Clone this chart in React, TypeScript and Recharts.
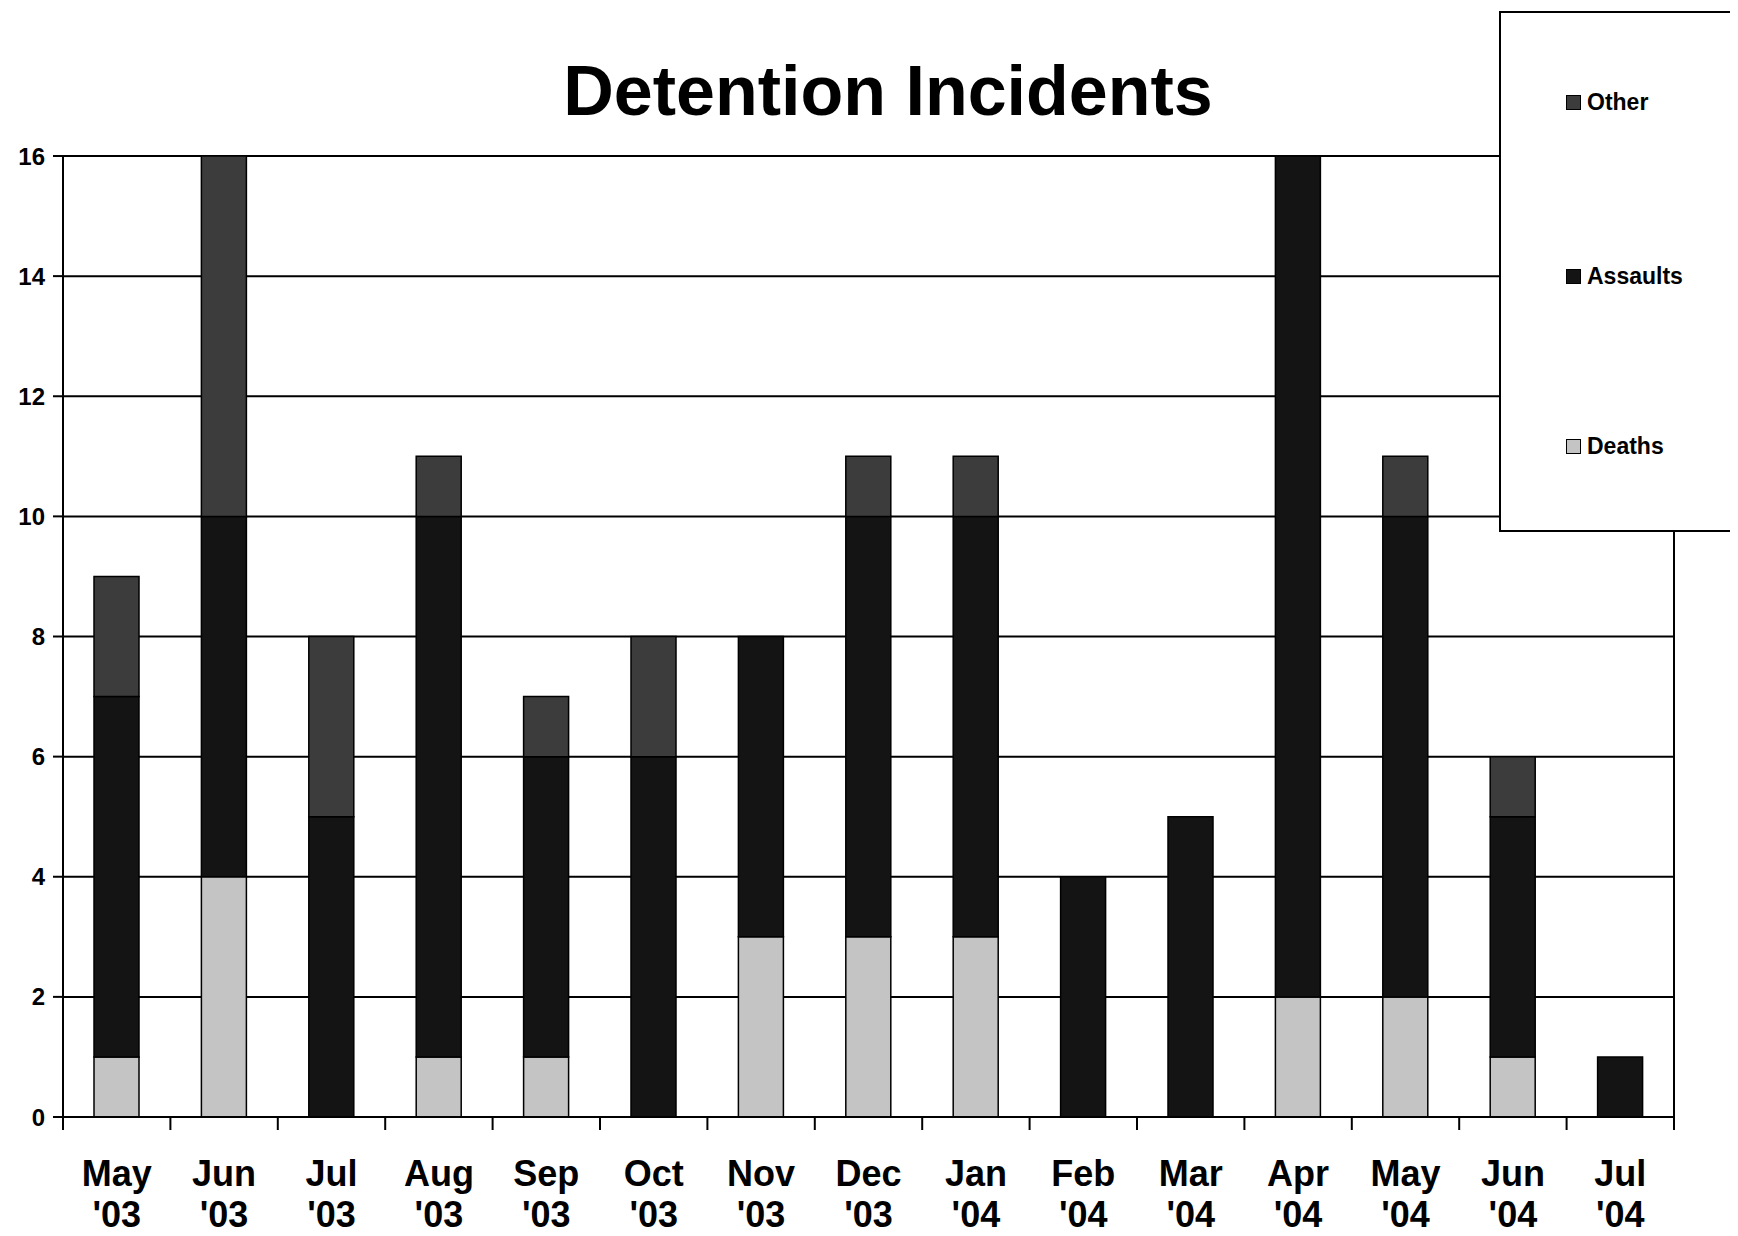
import React from "react";
import { BarChart, Bar, XAxis, YAxis, CartesianGrid } from "recharts";

const months = ["May", "Jun", "Jul", "Aug", "Sep", "Oct", "Nov", "Dec", "Jan", "Feb", "Mar", "Apr", "May", "Jun", "Jul"];
const years = ["'03", "'03", "'03", "'03", "'03", "'03", "'03", "'03", "'04", "'04", "'04", "'04", "'04", "'04", "'04"];
const deaths = [1, 4, 0, 1, 1, 0, 3, 3, 3, 0, 0, 2, 2, 1, 0];
const assaults = [6, 6, 5, 9, 5, 6, 5, 7, 7, 4, 5, 14, 8, 4, 1];
const other = [2, 6, 3, 1, 1, 2, 0, 1, 1, 0, 0, 0, 1, 1, 0];
const yTicks = [0, 2, 4, 6, 8, 10, 12, 14, 16];
const seriesNames = ["Other", "Assaults", "Deaths"];

const data = months.map((m, i) => ({
  key: `${m} ${years[i]}`,
  month: m,
  year: years[i],
  Deaths: deaths[i],
  Assaults: assaults[i],
  Other: other[i],
}));

const W = 1722;
const H = 1228;
const PLOT_LEFT = 55;
const PLOT_RIGHT = 1666;
const FONT = "'Liberation Sans', Arial, Helvetica, sans-serif";
const COLORS: Record<string, string> = { Deaths: "#c4c4c4", Assaults: "#141414", Other: "#3c3c3c" };

const HALF_BAND = (PLOT_RIGHT - PLOT_LEFT) / months.length / 2;

const XTick = (props: any) => {
  const { x, y, index } = props;
  const i = index ?? 0;
  const d = data[i] || { month: "", year: "" };
  return (
    <g>
      <line x1={x - HALF_BAND} x2={x - HALF_BAND} y1={y} y2={y + 13} stroke="#000" strokeWidth={2} />
      {i === months.length - 1 && (
        <line x1={x + HALF_BAND} x2={x + HALF_BAND} y1={y} y2={y + 13} stroke="#000" strokeWidth={2} />
      )}
      <text x={x} y={y + 69} textAnchor="middle" fontFamily={FONT} fontWeight="bold" fontSize={36} fill="#000">
        {d.month}
      </text>
      <text x={x} y={y + 110} textAnchor="middle" fontFamily={FONT} fontWeight="bold" fontSize={36} fill="#000">
        {d.year}
      </text>
    </g>
  );
};

const legendTops = [92, 266, 436];

const LegendBox = () => (
  <div
    style={{
      position: "absolute",
      left: 1491,
      top: 3,
      width: 260,
      height: 521,
      background: "#fff",
      border: "2px solid #000",
      boxSizing: "border-box",
      zIndex: 3,
    }}
  >
    {seriesNames.map((name, k) => (
      <div
        key={name}
        style={{
          position: "absolute",
          left: 65,
          top: legendTops[k] - 3 - 14,
          display: "flex",
          alignItems: "center",
          fontFamily: FONT,
          fontWeight: "bold",
          fontSize: 23,
          lineHeight: "28px",
          color: "#000",
        }}
      >
        <span
          style={{
            display: "inline-block",
            width: 15,
            height: 15,
            background: COLORS[name],
            border: "1.5px solid #000",
            boxSizing: "border-box",
            marginRight: 6,
          }}
        />
        <span>{name}</span>
      </div>
    ))}
  </div>
);

export default function App() {
  return (
    <div style={{ position: "relative", width: W, height: H, overflow: "hidden", background: "#fff" }}>
      <div
        style={{
          position: "absolute",
          left: 0,
          width: 1760,
          top: 48,
          textAlign: "center",
          fontFamily: FONT,
          fontWeight: "bold",
          fontSize: 70,
          lineHeight: "70px",
          color: "#000",
          zIndex: 2,
          pointerEvents: "none",
        }}
      >
        Detention Incidents
      </div>
      <BarChart
        width={W}
        height={H}
        data={data}
        margin={{ top: 148, right: 55, bottom: 0, left: 15 }}
        barSize={45}
      >
        <CartesianGrid yAxisId="left" horizontal={true} vertical={false} stroke="#000" strokeWidth={2} />
        <XAxis
          dataKey="key"
          height={119}
          tickSize={0}
          tickMargin={0}
          tickLine={false}
          axisLine={{ stroke: "#000", strokeWidth: 2 }}
          tick={<XTick />}
          interval={0}
        />
        <YAxis
          yAxisId="left"
          width={40}
          domain={[0, 16]}
          ticks={yTicks}
          interval={0}
          tickSize={10}
          tickMargin={8}
          axisLine={{ stroke: "#000", strokeWidth: 2 }}
          tickLine={{ stroke: "#000", strokeWidth: 2 }}
          tick={{ fontFamily: FONT, fontWeight: "bold", fontSize: 24, fill: "#000" }}
        />
        <YAxis
          yAxisId="right"
          orientation="right"
          width={1}
          domain={[0, 16]}
          tick={false}
          tickLine={false}
          axisLine={{ stroke: "#000", strokeWidth: 2 }}
        />
        <Bar yAxisId="left" dataKey="Deaths" stackId="a" fill={COLORS.Deaths} stroke="#000" strokeWidth={1.5} isAnimationActive={false} />
        <Bar yAxisId="left" dataKey="Assaults" stackId="a" fill={COLORS.Assaults} stroke="#000" strokeWidth={1.5} isAnimationActive={false} />
        <Bar yAxisId="left" dataKey="Other" stackId="a" fill={COLORS.Other} stroke="#000" strokeWidth={1.5} isAnimationActive={false} />
      </BarChart>
      <LegendBox />
    </div>
  );
}
